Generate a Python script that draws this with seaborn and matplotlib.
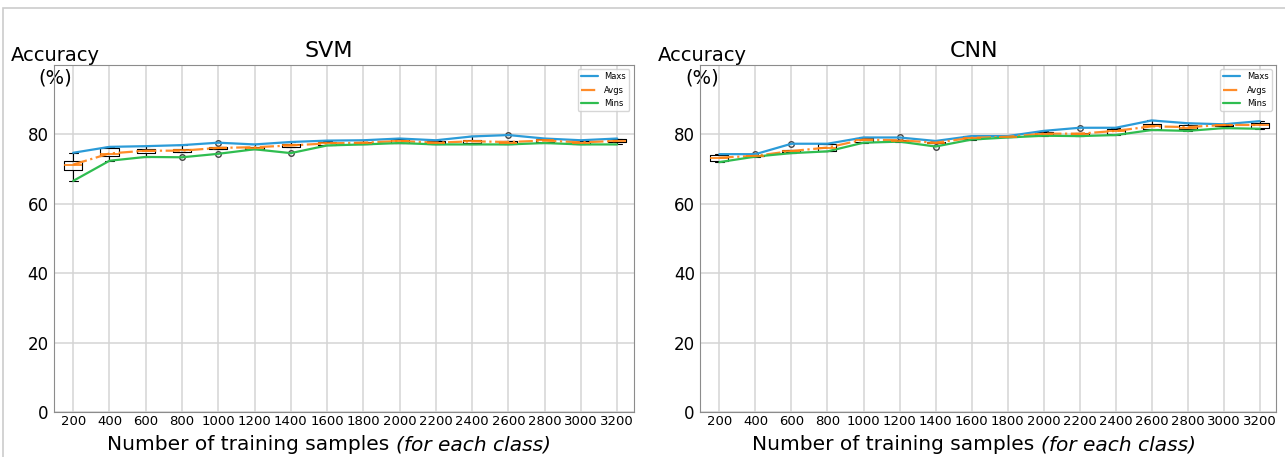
import numpy as np
import pandas as pd
import matplotlib
matplotlib.use('Agg')
import matplotlib.pyplot as plt
from matplotlib.patches import Rectangle
import seaborn as sns

# training set sizes (per class)
samples = [200, 400, 600, 800, 1000, 1200, 1400, 1600,
           1800, 2000, 2200, 2400, 2600, 2800, 3000, 3200]

# five runs per size (min, q1, median, q3, max)
svm_runs = [
    [66.6, 69.8, 71.3, 72.4, 74.7],
    [72.4, 73.7, 74.4, 76.1, 76.4],
    [73.5, 74.7, 75.3, 75.9, 76.6],
    [73.4, 75.0, 75.4, 75.9, 76.9],
    [74.4, 75.8, 76.2, 76.5, 77.6],
    [75.7, 75.8, 76.2, 76.5, 77.1],
    [74.6, 76.3, 76.9, 77.3, 77.8],
    [76.8, 76.9, 77.4, 77.8, 78.2],
    [77.1, 77.3, 77.6, 77.9, 78.3],
    [77.5, 77.6, 78.2, 78.6, 78.8],
    [77.1, 77.2, 77.5, 78.1, 78.3],
    [77.1, 77.4, 78.0, 78.5, 79.4],
    [77.1, 77.1, 77.6, 78.1, 79.8],
    [77.5, 77.8, 78.3, 78.6, 78.8],
    [77.1, 77.2, 77.6, 78.1, 78.3],
    [77.1, 77.8, 78.2, 78.6, 78.8],
]
svm_avgs = [71.3, 74.5, 75.3, 75.3, 76.1, 76.3, 76.8, 77.4,
            77.6, 78.1, 77.6, 78.0, 77.8, 78.2, 77.7, 78.1]

cnn_runs = [
    [72.0, 72.3, 73.3, 74.2, 74.3],
    [73.6, 73.65, 73.8, 73.85, 74.3],
    [74.6, 74.8, 75.2, 75.6, 77.3],
    [75.1, 75.2, 76.2, 77.1, 77.3],
    [77.6, 77.9, 78.5, 79.0, 79.1],
    [77.9, 78.0, 78.2, 78.4, 79.1],
    [76.5, 77.4, 77.6, 77.9, 78.1],
    [78.5, 78.6, 79.0, 79.4, 79.5],
    [79.1, 79.2, 79.3, 79.4, 79.5],
    [79.6, 79.8, 80.2, 80.6, 81.0],
    [79.5, 79.7, 80.1, 80.5, 81.9],
    [79.8, 80.2, 81.0, 81.4, 81.9],
    [81.25, 81.4, 82.3, 82.9, 84.0],
    [81.0, 81.4, 81.9, 82.6, 83.2],
    [81.8, 82.3, 82.7, 82.8, 82.9],
    [81.6, 81.9, 82.7, 83.4, 83.8],
]
cnn_avgs = [73.3, 73.8, 75.2, 76.2, 78.5, 78.3, 77.6, 79.0,
            79.3, 80.2, 80.2, 81.0, 82.3, 82.1, 82.7, 82.7]

panels = [('SVM', svm_runs, svm_avgs), ('CNN', cnn_runs, cnn_avgs)]

sns.set_style('whitegrid', {'grid.color': '#d4d4d4', 'axes.edgecolor': '#8c8c8c'})
plt.rcParams.update({'text.color': 'black', 'axes.labelcolor': 'black',
                     'xtick.color': 'black', 'ytick.color': 'black'})

fig = plt.figure(figsize=(12.85, 4.57), dpi=100)
ax1 = fig.add_axes([0.042, 0.098, 0.451, 0.76])
ax2 = fig.add_axes([0.545, 0.098, 0.448, 0.76])

for ax, (name, runs, avgs) in zip([ax1, ax2], panels):
    df = pd.DataFrame([(s, v) for s, r in zip(samples, runs) for v in r],
                      columns=['samples', 'accuracy'])
    sns.boxplot(data=df, x='samples', y='accuracy', ax=ax, width=0.5,
                fill=False, color='black', linewidth=0.8,
                medianprops={'color': '#ff7f0e', 'linewidth': 1.2},
                flierprops={'marker': 'o', 'markerfacecolor': 'none',
                            'markeredgecolor': '#444444', 'markersize': 4})
    pos = np.arange(len(samples))
    stats = df.groupby('samples')['accuracy']
    sns.lineplot(x=pos, y=stats.max().values, ax=ax, color='#2b9bd8', lw=1.6, label='Maxs')
    sns.lineplot(x=pos, y=avgs, ax=ax, color='#ff8c2a', lw=1.6, ls='-.', label='Avgs')
    sns.lineplot(x=pos, y=stats.min().values, ax=ax, color='#2fbd50', lw=1.6, label='Mins')

    ax.set_xlim(-0.53, 15.45)
    ax.set_ylim(0, 100)
    ax.set_yticks([0, 20, 40, 60, 80])
    ax.set_xticks(pos)
    ax.set_xticklabels(samples, fontsize=9.5)
    ax.grid(True, axis='both', color='#d4d4d4', lw=1.1)
    ax.set_axisbelow(True)
    ax.tick_params(axis='y', labelsize=12, pad=1, length=3, color='#8c8c8c')
    ax.tick_params(axis='x', pad=2, length=0)
    ax.set_title(name, fontsize=16, x=0.475, pad=6)
    ax.set_xlabel('')
    ax.set_ylabel('Accuracy\n(%)', fontsize=14, rotation=0, ha='center', va='center')
    ax.yaxis.set_label_coords(0.003, 0.995)
    ax.legend(loc='upper right', fontsize=6, frameon=True)

# x label with an italic tail, centred under each axes
fig.canvas.draw()
renderer = fig.canvas.get_renderer()
for ax in [ax1, ax2]:
    t1 = ax.text(0, 0, 'Number of training samples ', fontsize=14.5,
                 transform=ax.transAxes, ha='left', va='baseline')
    t2 = ax.text(0, 0, '(for each class)', fontsize=14.5, style='italic',
                 transform=ax.transAxes, ha='left', va='baseline')
    w1 = t1.get_window_extent(renderer).width
    w2 = t2.get_window_extent(renderer).width
    bb = ax.get_window_extent(renderer)
    x0 = bb.x0 + (bb.width - w1 - w2) / 2 - 0.025 * bb.width
    y0 = bb.y0 - 38
    inv = ax.transAxes.inverted()
    t1.set_position(inv.transform((x0, y0)))
    t2.set_position(inv.transform((x0 + w1, y0)))

# thin frame of the original screenshot
fig.patches.append(Rectangle((0.002, -0.05), 1.2, 1.033, transform=fig.transFigure,
                             fill=False, edgecolor='#cccccc', lw=1.2))

fig.savefig('out.png', dpi=100)
